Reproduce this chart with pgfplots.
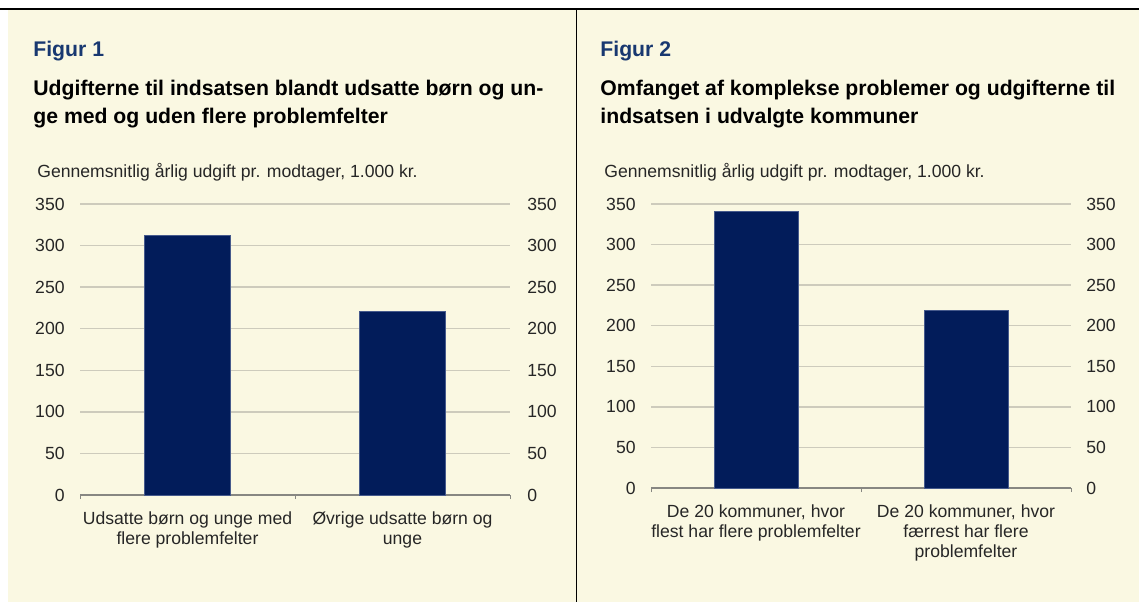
\documentclass[border=0pt]{standalone}
\usepackage{pgfplots}
\pgfplotsset{compat=1.18}
\usepackage{fontspec}
\setmainfont{Liberation Sans}
\definecolor{cream}{RGB}{250,248,226}
\definecolor{navy}{RGB}{2,28,90}
\definecolor{navyedge}{RGB}{70,90,140}
\definecolor{figblue}{RGB}{24,56,112}
\definecolor{gridc}{RGB}{205,203,188}
\definecolor{axisc}{RGB}{135,135,130}
\newcommand{\tl}{\fontsize{8.8}{10}\selectfont}
\newcommand{\tf}{\fontsize{10.6}{14}\selectfont\bfseries}
\pgfplotsset{
  panel/.style={
    anchor=south west, scale only axis,
    xmin=0, xmax=2, ymin=0, ymax=350,
    ytick={0,50,...,350},
    xtick={0.5,1.5},
    minor xtick={0,1,2},
    major tick length=0pt,
    minor tick length=2pt,
    tick align=outside,
    minor tick style={axisc, line width=0.5pt},
    axis x line*=bottom, axis y line*=left,
    x axis line style={axisc, line width=0.6pt, -},
    y axis line style={draw=none},
    ymajorgrids,
    grid style={gridc, line width=0.7pt},
    /pgf/number format/assume math mode=true,
    tick label style={font=\tl, text=black!85},
    yticklabel style={anchor=east, inner sep=0pt, xshift=-7.5pt},
    xticklabel style={anchor=north, inner sep=0pt, yshift=-8pt, align=center},
  },
  rpanel/.style={
    anchor=south west, scale only axis,
    xmin=0, xmax=2, ymin=0, ymax=350,
    ytick={0,50,...,350},
    major tick length=0pt,
    hide x axis,
    axis y line*=right,
    y axis line style={draw=none},
    /pgf/number format/assume math mode=true,
    tick label style={font=\tl, text=black!85},
  },
}
\begin{document}
\begin{tikzpicture}[x=0.5pt,y=0.5pt]
\path[use as bounding box, fill=white] (0,0) rectangle (1139,602);
\fill[cream] (8,0) rectangle (1139,593);
\draw[black, line width=0.6pt] (0,593) -- (1139,593);
\draw[black, line width=0.6pt] (576.5,593) -- (576.5,0);
\coordinate (A1) at (80,107);
\coordinate (A2) at (651,114);
% titles
\node[anchor=base west, inner sep=0pt, text=figblue, font=\tf] at (33,546) {Figur 1};
\node[anchor=base west, inner sep=0pt, font=\tf] at (33,507) {Udgifterne til indsatsen blandt udsatte børn og un-};
\node[anchor=base west, inner sep=0pt, font=\tf] at (33,479) {ge med og uden flere problemfelter};
\node[anchor=base west, inner sep=0pt, text=figblue, font=\tf] at (600,546) {Figur 2};
\node[anchor=base west, inner sep=0pt, font=\tf] at (600,507) {Omfanget af komplekse problemer og udgifterne til};
\node[anchor=base west, inner sep=0pt, font=\tf] at (600,479) {indsatsen i udvalgte kommuner};
\node[anchor=base west, inner sep=0pt, font=\tl, text=black!85] at (37,425) {Gennemsnitlig årlig udgift pr. modtager, 1.000 kr.};
\node[anchor=base west, inner sep=0pt, font=\tl, text=black!85] at (604,425) {Gennemsnitlig årlig udgift pr. modtager, 1.000 kr.};
% Figure 1
\begin{axis}[panel, at={(A1)}, width=215pt, height=145.5pt,
  xticklabels={{Udsatte børn og unge med\\flere problemfelter}, {Øvrige udsatte børn og\\unge}}]
\addplot[ybar, bar width=0.4, fill=navy, draw=navyedge, line width=0.4pt] coordinates {(0.5,312) (1.5,221)};
\end{axis}
\begin{axis}[rpanel, at={(A1)}, width=215pt, height=145.5pt,
  yticklabel style={anchor=west, inner sep=0pt, xshift=8.5pt}]
\end{axis}
% Figure 2
\begin{axis}[panel, at={(A2)}, width=210pt, height=142pt,
  xticklabels={{De 20 kommuner, hvor\\flest har flere problemfelter}, {De 20 kommuner, hvor\\færrest har flere\\problemfelter}}]
\addplot[ybar, bar width=0.4, fill=navy, draw=navyedge, line width=0.4pt] coordinates {(0.5,341) (1.5,219)};
\end{axis}
\begin{axis}[rpanel, at={(A2)}, width=210pt, height=142pt,
  yticklabel style={anchor=west, inner sep=0pt, xshift=7.5pt}]
\end{axis}
\end{tikzpicture}
\end{document}
